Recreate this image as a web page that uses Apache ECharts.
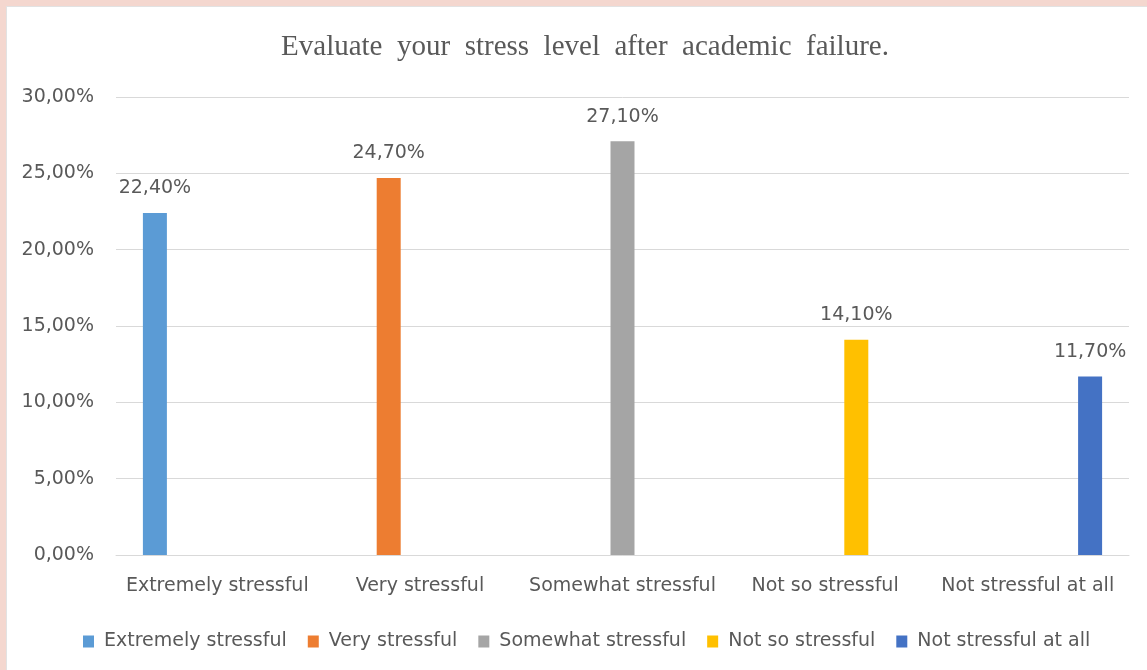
<!DOCTYPE html>
<html>
<head>
<meta charset="utf-8">
<script src="https://cdn.jsdelivr.net/npm/echarts@6/dist/echarts.min.js"></script>
<style>
  html, body { margin: 0; padding: 0; background: #ffffff; }
  #chart { width: 1147px; height: 670px; }
</style>
</head>
<body>
<div id="chart"></div>
<script>
// Survey answers: stress level after academic failure (share of respondents, %)
const titleText = 'Evaluate  your  stress  level  after  academic  failure.';
const categories = ['Extremely stressful', 'Very stressful', 'Somewhat stressful', 'Not so stressful', 'Not stressful at all'];
const shares = [22.4, 24.7, 27.1, 14.1, 11.7];
const colors = ['#5B9BD5', '#ED7D31', '#A5A5A5', '#FFC000', '#4472C4'];
const yTicks = { min: 0, max: 30, interval: 5 };

const textColor = '#595959';
const sansFont = 'DejaVu Sans';
const sansSize = 19;

function pct(v) {
  return v.toFixed(2).replace('.', ',') + '%';
}

// One series per answer; each series only holds a value in its own category
const series = categories.map((name, i) => ({
  name: name,
  type: 'bar',
  barWidth: 24,
  barGap: '30%',
  itemStyle: { color: colors[i] },
  data: categories.map((_, j) => (j === i ? shares[i] : '-')),
  label: {
    show: true,
    position: 'top',
    distance: 15,
    color: textColor,
    fontFamily: sansFont,
    fontSize: sansSize,
    formatter: p => pct(p.value)
  }
}));

const chart = echarts.init(document.getElementById('chart'), null, { renderer: 'canvas' });
chart.setOption({
  backgroundColor: '#ffffff',
  animation: false,
  color: colors,
  title: {
    text: titleText,
    left: 580,
    top: 28,
    textAlign: 'center',
    textStyle: {
      fontFamily: 'Liberation Serif',
      fontWeight: 'normal',
      fontSize: 29,
      color: textColor
    }
  },
  legend: {
    data: categories,
    left: 83,
    top: 632,
    padding: 0,
    itemWidth: 11,
    itemHeight: 12,
    itemGap: 21,
    icon: 'rect',
    textStyle: {
      color: textColor,
      fontFamily: sansFont,
      fontSize: sansSize,
      padding: [0, 0, 0, 5]
    }
  },
  grid: {
    left: 116,
    right: 18,
    top: 97,
    bottom: 115,
    containLabel: false
  },
  xAxis: {
    type: 'category',
    data: categories,
    axisLine: { lineStyle: { color: '#d9d9d9', width: 1 } },
    axisTick: { show: false },
    axisLabel: {
      color: textColor,
      fontFamily: sansFont,
      fontSize: sansSize,
      margin: 22,
      interval: 0
    }
  },
  yAxis: {
    type: 'value',
    min: yTicks.min,
    max: yTicks.max,
    interval: yTicks.interval,
    axisLine: { show: false },
    axisTick: { show: false },
    splitLine: { lineStyle: { color: '#d9d9d9', width: 1 } },
    axisLabel: {
      color: textColor,
      fontFamily: sansFont,
      fontSize: sansSize,
      margin: 22,
      formatter: v => pct(v)
    }
  },
  graphic: [
    // pink frame along the top and left edges
    { type: 'rect', left: 0, top: 0, shape: { width: 1147, height: 6 }, style: { fill: '#f4d7cf' }, silent: true },
    { type: 'rect', left: 0, top: 0, shape: { width: 6, height: 670 }, style: { fill: '#f4d7cf' }, silent: true },
    { type: 'rect', left: 6, top: 6, shape: { width: 1141, height: 1 }, style: { fill: '#e2e2e2' }, silent: true },
    { type: 'rect', left: 6, top: 6, shape: { width: 1, height: 664 }, style: { fill: '#e2e2e2' }, silent: true }
  ],
  series: series
});
</script>
</body>
</html>
